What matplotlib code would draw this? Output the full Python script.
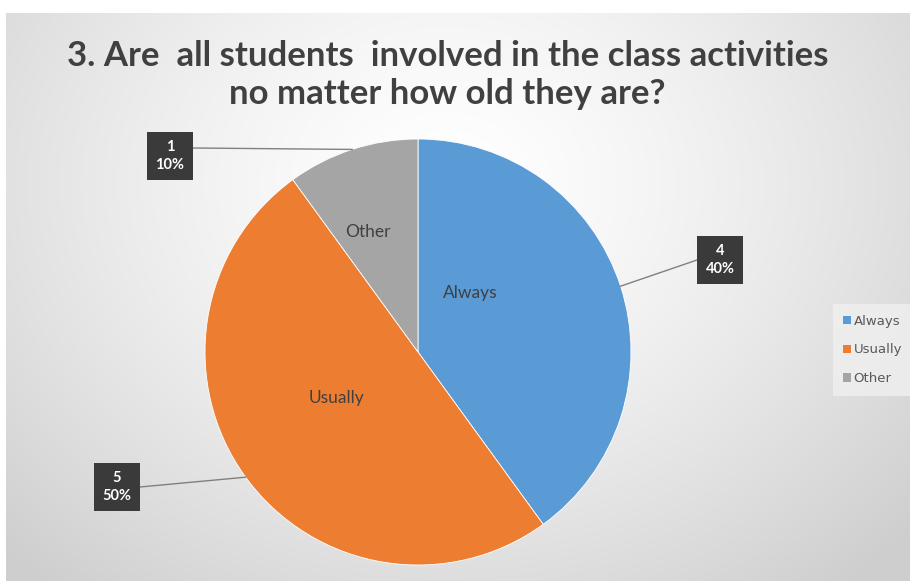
import numpy as np
import matplotlib
matplotlib.use("Agg")
import matplotlib.pyplot as plt

# ── Survey data ────────────────────────────────────────────────
answers = ["Always", "Usually", "Other"]
counts = [4, 5, 1]
colors = ["#5b9bd5", "#ed7d31", "#a5a5a5"]
title = "3. Are  all students  involved in the class activities\nno matter how old they are?"

# label box centres (pixel coords, y from top)
box_pos = [(720, 260), (117, 487), (170, 156)]
name_pos = [(470, 293), (336, 398), (368, 232)]

W, H = 910, 581
fig = plt.figure(figsize=(W / 100, H / 100), dpi=100)
fig.patch.set_facecolor("white")

# ── Gradient backdrop ──────────────────────────────────────────
bg = fig.add_axes([6 / W, 0, 1 - 6 / W, 1 - 13 / H])
yy, xx = np.mgrid[0:568, 0:904]
d = np.hypot((xx - 440) / 620.0, (yy - 170) / 520.0)
shade = 1.0 - 0.19 * np.clip(d, 0, 1) ** 1.4
bg.imshow(np.dstack([shade] * 3), aspect="auto", extent=[0, 1, 0, 1])
bg.set_axis_off()

# ── Pie in pixel space ─────────────────────────────────────────
ax = fig.add_axes([0, 0, 1, 1])
ax.patch.set_alpha(0)

cx, cy, r = 418, H - 352, 213
wedges, _ = ax.pie(counts, colors=colors, startangle=90, counterclock=False,
                   center=(cx, cy), radius=r, frame=True,
                   wedgeprops=dict(edgecolor="white", linewidth=0.6))
ax.set_xlim(0, W)
ax.set_ylim(0, H)
ax.set_axis_off()

total = sum(counts)
for w, n, bp, npos, name in zip(wedges, counts, box_pos, name_pos, answers):
    mid = np.deg2rad((w.theta1 + w.theta2) / 2)
    ex, ey = cx + r * np.cos(mid), cy + r * np.sin(mid)
    bx, by = bp[0], H - bp[1]
    sx = bx + 23 if bx < ex else bx - 23
    ax.plot([sx, ex], [by + 8 if name == "Other" else by, ey],
            color="#808080", lw=1)
    ax.text(bx, by, f"{n}\n{n / total:.0%}", ha="center", va="center",
            color="white", fontsize=10.5, fontweight="bold",
            family="Lato", linespacing=1.45,
            bbox=dict(boxstyle="square,pad=0.55", facecolor="#3a3a3a",
                      edgecolor="none"))
    ax.text(npos[0], H - npos[1], name, ha="center", va="center",
            color="#404040", fontsize=12.5, family="Lato")

# ── Title ──────────────────────────────────────────────────────
fig.text(0.492, 1 - 75 / H, title, ha="center", va="center",
         fontsize=25, fontweight="bold", color="#404040",
         family="Lato", linespacing=1.22)

# ── Legend ─────────────────────────────────────────────────────
leg = fig.legend(wedges, answers, loc="center left",
                 bbox_to_anchor=(826 / W, 1 - 350 / H), frameon=True,
                 fontsize=9.5, handlelength=0.6, handleheight=0.6,
                 handletextpad=0.2, labelspacing=1.2, borderpad=0.8,
                 fancybox=False)
leg.get_frame().set_facecolor("#f0f0f0")
leg.get_frame().set_edgecolor("none")
for t in leg.get_texts():
    t.set_color("#595959")
for h in leg.legend_handles:
    h.set_edgecolor("none")

fig.savefig("out.png", dpi=100)
